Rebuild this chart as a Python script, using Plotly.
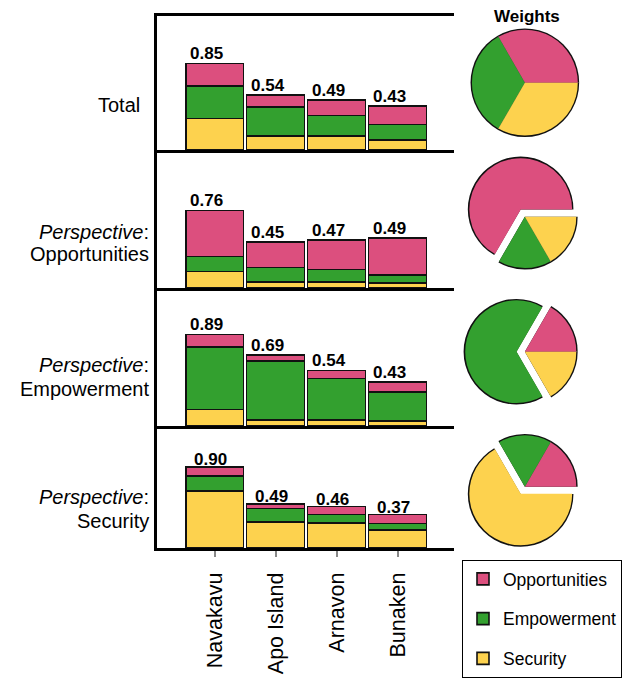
import plotly.graph_objects as go

# ---------------- data ----------------
categories = ["Navakavu", "Apo Island", "Arnavon", "Bunaken"]
series_names = ["Opportunities", "Empowerment", "Security"]

row_labels = [
    ["Total"],
    ["<i>Perspective</i>:", "Opportunities"],
    ["<i>Perspective</i>:", "Empowerment"],
    ["<i>Perspective</i>:", "Security"],
]

# stacked components per row (bottom: Security, middle: Empowerment, top: Opportunities)
total_opp = [0.22, 0.12, 0.15, 0.18]
total_emp = [0.32, 0.28, 0.20, 0.15]
total_sec = [0.31, 0.14, 0.14, 0.10]

popp_opp = [0.45, 0.25, 0.29, 0.36]
popp_emp = [0.15, 0.14, 0.12, 0.08]
popp_sec = [0.16, 0.06, 0.06, 0.05]

pemp_opp = [0.12, 0.06, 0.08, 0.10]
pemp_emp = [0.61, 0.57, 0.40, 0.28]
pemp_sec = [0.16, 0.06, 0.06, 0.05]

psec_opp = [0.10, 0.05, 0.09, 0.10]
psec_emp = [0.17, 0.15, 0.09, 0.07]
psec_sec = [0.63, 0.29, 0.28, 0.20]

row_totals = [
    [0.85, 0.54, 0.49, 0.43],
    [0.76, 0.45, 0.47, 0.49],
    [0.89, 0.69, 0.54, 0.43],
    [0.90, 0.49, 0.46, 0.37],
]

# pie weights (Opportunities, Empowerment, Security)
weights_total = [1, 1, 1]
weights_opp = [4, 1, 1]
weights_emp = [1, 4, 1]
weights_sec = [1, 1, 4]

# ---------------- style ----------------
W, H = 622, 680
FONT = "Liberation Sans, Arial, Helvetica, sans-serif"
COLORS = {"Opportunities": "#DC4F7E", "Empowerment": "#33A02F", "Security": "#FDD24E"}

rows = [
    (total_opp, total_emp, total_sec),
    (popp_opp, popp_emp, popp_sec),
    (pemp_opp, pemp_emp, pemp_sec),
    (psec_opp, psec_emp, psec_sec),
]
pie_weights = [weights_total, weights_opp, weights_emp, weights_sec]
pie_pull_idx = [None, 0, 1, 2]

# panel geometry in pixels (top, bottom)
row_px = [(16, 150), (150, 288), (288, 426), (427, 548)]
yranges = [1.314, 1.353, 1.34, 1.344]
x_px = (157, 455)
xrange = [-0.95, 3.93]


def px_x(v):
    return v / W


def px_y(v):
    return 1 - v / H


fig = go.Figure()

for i, (opp, emp, sec) in enumerate(rows):
    n = i + 1
    xa = "x" if n == 1 else f"x{n}"
    ya = "y" if n == 1 else f"y{n}"
    for name, vals in (("Security", sec), ("Empowerment", emp), ("Opportunities", opp)):
        fig.add_trace(go.Bar(
            x=list(range(len(categories))), y=vals, name=name,
            xaxis=xa, yaxis=ya, width=0.95,
            marker=dict(color=COLORS[name], line=dict(color="#111111", width=1.6)),
            showlegend=(i == 0), legendgroup=name,
            legendrank={"Opportunities": 1, "Empowerment": 2, "Security": 3}[name],
            hoverinfo="skip",
        ))

# axes
layout_axes = {}
for i, (top, bot) in enumerate(row_px):
    n = i + 1
    xkey = "xaxis" if n == 1 else f"xaxis{n}"
    ykey = "yaxis" if n == 1 else f"yaxis{n}"
    yref = "y" if n == 1 else f"y{n}"
    xref = "x" if n == 1 else f"x{n}"
    last = (n == 4)
    layout_axes[xkey] = dict(
        domain=[px_x(x_px[0]), px_x(x_px[1])], anchor=yref, range=xrange,
        showline=True, linewidth=3, linecolor="black", mirror=(n == 1),
        tickmode="array", tickvals=list(range(len(categories))), ticktext=categories,
        showticklabels=last, ticks="outside" if last else "", ticklen=6, tickwidth=1.5,
        tickcolor="#888888", tickangle=-90, ticklabelstandoff=7,
        tickfont=dict(family=FONT, size=21.5, color="black"),
        showgrid=False, zeroline=False, fixedrange=True,
    )
    layout_axes[ykey] = dict(
        domain=[px_y(bot), px_y(top)], anchor=xref, range=[0, yranges[i]],
        showline=True, linewidth=3, linecolor="black",
        showticklabels=False, ticks="", showgrid=False, zeroline=False, fixedrange=True,
    )
    layout_axes[f"yaxis{n + 4}"] = dict(
        overlaying=yref, side="right", anchor=xref, range=[0, yranges[i]],
        showline=True, linewidth=1.6, linecolor="#222222",
        showticklabels=False, ticks="", showgrid=False, zeroline=False, fixedrange=True,
    )

# pies
pie_cx = 525.7
pie_cy = [82.7, 216.7, 351.7, 486.7]
pie_r = [53, 51.5, 51.5, 51.5]
pull_amt = 0.16
pie_colors = [COLORS[s] for s in series_names]
for i, wts in enumerate(pie_weights):
    pull = [0, 0, 0]
    if pie_pull_idx[i] is not None:
        pull[pie_pull_idx[i]] = pull_amt
    mp = max(pull)
    # first slice (Opportunities) starts at 3 o'clock, slices run counterclockwise
    rot = 90 - 360.0 * wts[0] / sum(wts)
    for rr, cols in ((pie_r[i] + 1.4, ["#111111"] * 3), (pie_r[i], pie_colors)):
        half = rr * (1 + mp)
        fig.add_trace(go.Pie(
            values=wts, labels=series_names, sort=False,
            direction="counterclockwise", rotation=rot, pull=pull,
            marker=dict(colors=cols, line=dict(width=0)),
            textinfo="none", hoverinfo="skip", showlegend=False,
            domain=dict(x=[px_x(pie_cx - half), px_x(pie_cx + half)],
                        y=[px_y(pie_cy[i] + half), px_y(pie_cy[i] - half)]),
        ))

annotations = []
# value labels
label_xshift = [-8, -8, -8, -4]
label_yshift = [-2, -2, -2, -4]
for i, tots in enumerate(row_totals):
    n = i + 1
    for j, t in enumerate(tots):
        annotations.append(dict(
            x=j, y=t, xref="x" if n == 1 else f"x{n}", yref="y" if n == 1 else f"y{n}",
            text=f"{t:.2f}", showarrow=False, yanchor="bottom", xanchor="center",
            xshift=label_xshift[i], yshift=label_yshift[i],
            font=dict(family=FONT, size=17, color="black", weight="bold"),
        ))

# row labels
label_lines_y = [[105], [231.5, 254], [365, 388.5], [497.5, 521]]
label_right = [[141], [150, 150], [150, 150], [150, 150]]
for lines, ys, xs in zip(row_labels, label_lines_y, label_right):
    for txt, yy, xx in zip(lines, ys, xs):
        annotations.append(dict(
            x=px_x(xx), y=px_y(yy), xref="paper", yref="paper", text=txt,
            showarrow=False, xanchor="right", yanchor="middle", borderpad=0,
            font=dict(family=FONT, size=20, color="black"),
        ))

annotations.append(dict(
    x=px_x(528), y=px_y(16), xref="paper", yref="paper", text="<b>Weights</b>",
    showarrow=False, xanchor="center", yanchor="middle",
    font=dict(family=FONT, size=17, color="black"),
))

fig.update_layout(
    width=W, height=H, margin=dict(l=0, r=0, t=0, b=0),
    paper_bgcolor="white", plot_bgcolor="white",
    barmode="stack", bargap=0.03,
    annotations=annotations,
    legend=dict(
        x=px_x(463), y=px_y(560), xanchor="left", yanchor="top",
        bordercolor="black", borderwidth=1, bgcolor="white",
        font=dict(family=FONT, size=17.5, color="black"),
        traceorder="grouped", tracegroupgap=14,
    ),
    **layout_axes,
)

fig.write_html(
    "out.html",
    config={"displayModeBar": False},
    post_script="document.body.style.margin='0px';document.body.style.overflow='hidden';",
)
